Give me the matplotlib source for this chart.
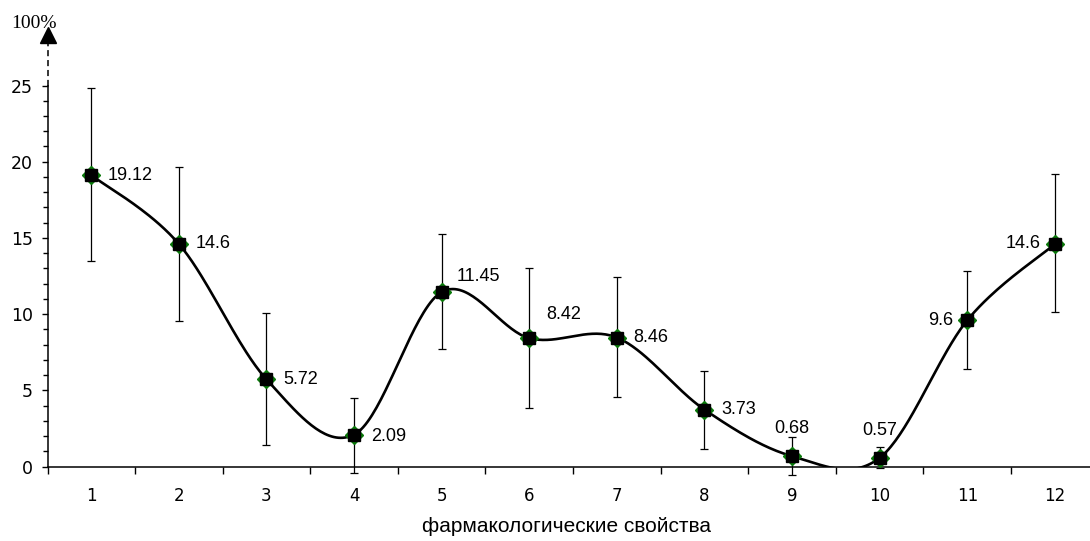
import numpy as np
import matplotlib
matplotlib.use("Agg")
import matplotlib.pyplot as plt
from matplotlib.ticker import FixedLocator

# values
properties = list(range(1, 13))
values = [19.12, 14.6, 5.72, 2.09, 11.45, 8.42, 8.46, 3.73, 0.68, 0.57, 9.6, 14.6]
err_low = [5.64, 5.05, 4.31, 2.5, 3.74, 4.56, 3.92, 2.58, 1.22, 0.69, 3.22, 4.46]
err_high = [5.74, 5.07, 4.33, 2.38, 3.79, 4.63, 3.95, 2.56, 1.23, 0.73, 3.25, 4.57]
label_texts = ["19.12", "14.6", "5.72", "2.09", "11.45", "8.42", "8.46", "3.73", "0.68", "0.57", "9.6", "14.6"]
# where each value label sits relative to its point (offset in points, ha)
label_pos = [(12, 0, "left"), (12, 0, "left"), (12, 0, "left"), (12, -1, "left"),
             (11, 11, "left"), (12, 17, "left"), (12, 0, "left"), (12, 0, "left"),
             (0, 20, "center"), (0, 20, "center"), (-10, 0, "right"), (-10, 0, "right")]
x_title = "фармакологические свойства"


def smooth_curve(xs, ys, n=40):
    # Catmull-Rom style bezier through the points (like a spreadsheet "smoothed line")
    xs = np.asarray(xs, float)
    ys = np.asarray(ys, float)
    px = np.concatenate([[xs[0]], xs, [xs[-1]]])
    py = np.concatenate([[ys[0]], ys, [ys[-1]]])
    out_x, out_y = [], []
    t = np.linspace(0, 1, n)
    for i in range(1, len(px) - 2):
        p0 = np.array([px[i - 1], py[i - 1]])
        p1 = np.array([px[i], py[i]])
        p2 = np.array([px[i + 1], py[i + 1]])
        p3 = np.array([px[i + 2], py[i + 2]])
        c1 = p1 + (p2 - p0) / 6
        c2 = p2 - (p3 - p1) / 6
        b = ((1 - t) ** 3)[:, None] * p1 + (3 * (1 - t) ** 2 * t)[:, None] * c1 \
            + (3 * (1 - t) * t ** 2)[:, None] * c2 + (t ** 3)[:, None] * p2
        out_x.extend(b[:, 0])
        out_y.extend(b[:, 1])
    return out_x, out_y


fig = plt.figure(figsize=(10.9, 5.41), dpi=100)
ax = fig.add_axes([47.5 / 1090, 74.5 / 541, 12 * 87.6 / 1090, 29 * 15.24 / 541])
ax.set_xlim(0.5, 12.5)
ax.set_ylim(0, 29)

sx, sy = smooth_curve(properties, values)
ax.plot(sx, sy, color="black", lw=1.9, zorder=3)

ax.errorbar(properties, values, yerr=[err_low, err_high], fmt="none", ecolor="black",
            elinewidth=0.9, capsize=3.2, capthick=0.9, zorder=2, clip_on=False)
ax.plot(properties, values, ls="none", marker="D", ms=9.5, color="#0a7a0a", zorder=4, clip_on=False)
ax.plot(properties, values, ls="none", marker="s", ms=8.8, color="black", zorder=5, clip_on=False)

for xv, yv, txt, (dx, dy, ha) in zip(properties, values, label_texts, label_pos):
    ax.annotate(txt, (xv, yv), xytext=(dx, dy), textcoords="offset points",
                ha=ha, va="center", fontsize=13, family="Liberation Sans", zorder=6)

# axes styling
for s in ["top", "right"]:
    ax.spines[s].set_visible(False)
ax.spines["left"].set_bounds(0, 25)
ax.spines["left"].set_linewidth(1.1)
ax.spines["bottom"].set_linewidth(1.1)

ax.yaxis.set_major_locator(FixedLocator([0, 5, 10, 15, 20, 25]))
ax.yaxis.set_minor_locator(FixedLocator(range(0, 26)))
ax.tick_params(axis="y", which="major", length=4.5, width=1.0, pad=6, labelsize=12.5)
ax.tick_params(axis="y", which="minor", length=3.8, width=1.0)

ax.xaxis.set_major_locator(FixedLocator(np.arange(0.5, 13, 1)))
ax.xaxis.set_major_formatter(plt.NullFormatter())
ax.xaxis.set_minor_locator(FixedLocator(properties))
ax.set_xticklabels([str(p) for p in properties], minor=True)
ax.tick_params(axis="x", which="major", length=5, width=1.0)
ax.tick_params(axis="x", which="minor", length=0, pad=15, labelsize=12)

# dashed extension of the y axis with an arrow head
ax.plot([0.5, 0.5], [25, 27.8], color="black", lw=1.1, ls=(0, (4, 2.5)), clip_on=False)
ax.plot([0.5], [28.3], marker="^", ms=12, color="black", clip_on=False)
fig.text(33.5 / 1090, 1 - 28 / 541, "100%", ha="center", va="baseline",
         fontsize=14, family="Liberation Serif")

fig.text(566 / 1090, 1 - 527 / 541, x_title, ha="center", va="center",
         fontsize=15, family="Liberation Sans")

fig.savefig("out.png", dpi=100)
